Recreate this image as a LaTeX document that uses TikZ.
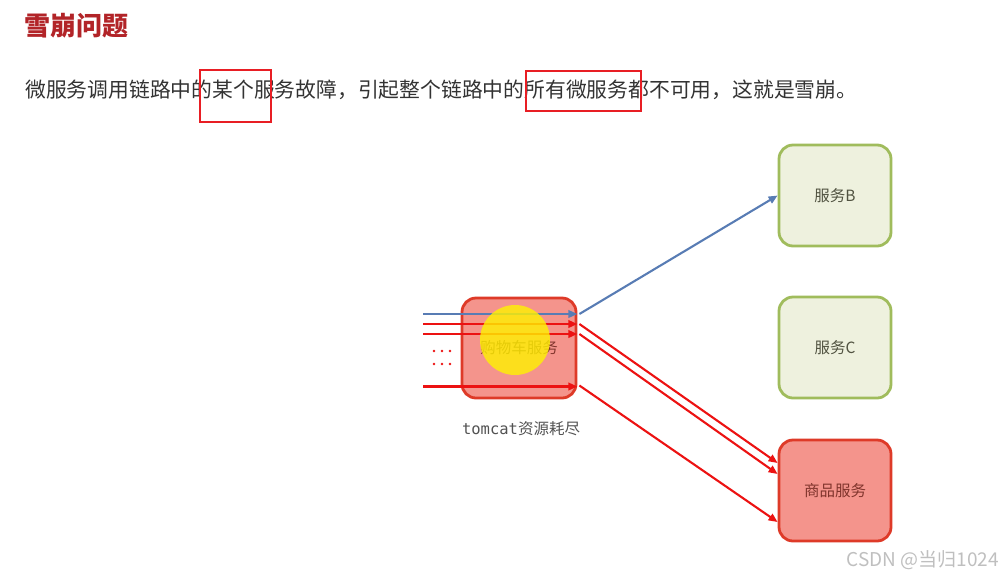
\documentclass[tikz,border=0pt]{standalone}
\usepackage{fontspec}
\setmainfont{Noto Sans CJK SC}
\setmonofont{DejaVu Sans Mono}
\usepackage{xcolor}
\usepackage{tikz}
\usetikzlibrary{
  arrows.meta,
  positioning,
  calc
}
\definecolor{TitleRed}{RGB}{178, 36, 40}
\definecolor{BodyGray}{RGB}{51, 51, 51}
\definecolor{MarkRed}{RGB}{232, 30, 36}
\definecolor{FailFill}{RGB}{244, 148, 140}
\definecolor{FailLine}{RGB}{222, 58, 40}
\definecolor{FailText}{RGB}{128, 52, 44}
\definecolor{OkFill}{RGB}{238, 241, 222}
\definecolor{OkLine}{RGB}{160, 188, 92}
\definecolor{OkText}{RGB}{80, 82, 64}
\definecolor{CallRed}{RGB}{236, 18, 18}
\definecolor{CallBlue}{RGB}{88, 124, 180}
\tikzset{
    markbox/.style={draw=MarkRed, line width=2.8pt, inner sep=0pt},
    failbox/.style={draw=FailLine, fill=FailFill, line width=2.8pt, rounded corners=14pt,
        text=FailText, font=\fontsize{15.5}{18}\selectfont},
    okbox/.style={draw=OkLine, fill=OkFill, line width=2.8pt, rounded corners=14pt,
        text=OkText, font=\fontsize{15.5}{18}\selectfont},
    redcall/.style={draw=CallRed, line width=2.1pt, -{Triangle[length=9pt,width=7.5pt]}},
    bluecall/.style={draw=CallBlue, line width=2.1pt, -{Triangle[length=9pt,width=7.5pt]}}
}

\begin{document}
\begin{tikzpicture}[x=1pt, y=-1pt]
            \useasboundingbox (0,0) rectangle (1003,579);
            \node[anchor=west, inner sep=0pt, text=TitleRed, font=\fontsize{26}{30}\selectfont\bfseries] (title) at (24,26) {雪崩问题};
            \node[anchor=west, inner sep=0pt, text=BodyGray, font=\fontsize{20.8}{24}\selectfont] (intro) at (25,90)
                {微服务调用链路中的某个服务故障，引起整个链路中的所有微服务都不可用，这就是雪崩。};
            % highlight boxes
            \node[markbox, minimum width=71, minimum height=52] (markA) at (235.5,96) {};
            \node[markbox, minimum width=115, minimum height=40] (markB) at (583.5,91) {};
            % services
            \node[failbox, minimum width=114, minimum height=100] (cart) at (519,348) {购物车服务};
            \node[okbox, minimum width=112, minimum height=101] (svcB) at (835,195.5) {服务B};
            \node[okbox, minimum width=112, minimum height=101] (svcC) at (835,347.5) {服务C};
            \node[failbox, minimum width=112, minimum height=101] (goods) at (835,490.5) {商品服务};
            \node[text=BodyGray!85, font=\fontsize{15.5}{18}\selectfont] (exhaust) at (521,429) {\texttt{tomcat}资源耗尽};
            % requests
            \coordinate (in1) at (423,314);
            \coordinate (in2) at (423,324);
            \coordinate (in3) at (423,334);
            \coordinate (in4) at (423,386.5);
            \draw[bluecall] (in1) -- (cart.east |- in1);
            \draw[redcall] (in2) -- (cart.east |- in2);
            \draw[redcall] (in3) -- (cart.east |- in3);
            \draw[redcall] (in4) -- (cart.east |- in4);
            \foreach \y in {351,364}
                \foreach \x in {434,442,450}
                    \fill[CallRed] (\x,\y) circle (1.4);
            \draw[bluecall] ($(cart.east |- in1)+(2,0)$) -- (svcB.west);
            \draw[redcall] ($(cart.east |- in2)+(2,0)$) -- ($(goods.west)+(0,-27.5)$);
            \draw[redcall] ($(cart.east |- in3)+(2,0)$) -- ($(goods.west)+(0,-16.5)$);
            \draw[redcall] ($(cart.east |- in4)+(2,-1)$) -- ($(goods.west)+(0,31.5)$);
            % pointer highlight
            \fill[yellow, opacity=0.8] (515,340) circle (35);
            \node[anchor=east, inner sep=0pt, text=gray!50, font=\fontsize{19}{22}\selectfont] (credit) at (999,560) {CSDN @当归1024};
        \end{tikzpicture}
\end{document}
